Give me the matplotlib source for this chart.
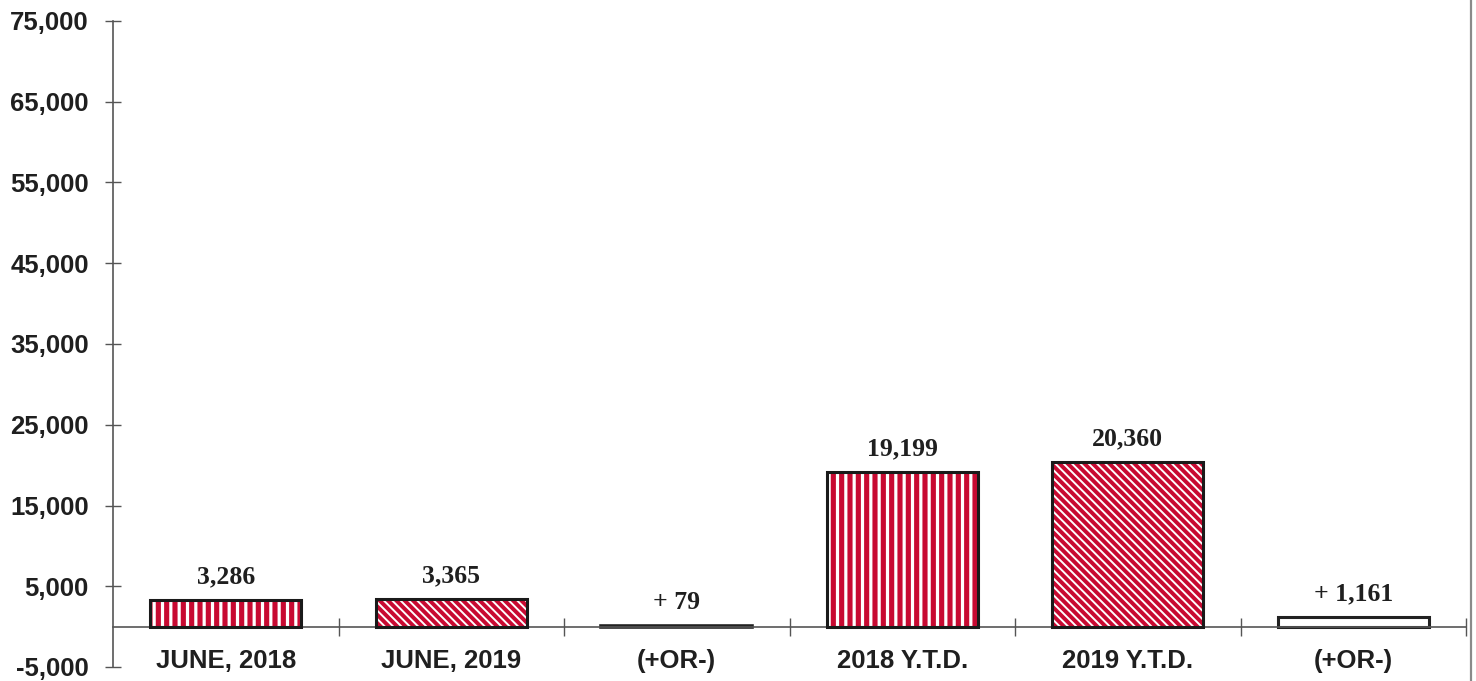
import matplotlib
matplotlib.use("Agg")
import matplotlib.pyplot as plt
from matplotlib.lines import Line2D
from matplotlib.ticker import FuncFormatter, FixedLocator

categories = ["JUNE, 2018", "JUNE, 2019", "(+OR-)", "2018 Y.T.D.", "2019 Y.T.D.", "(+OR-)"]
values = [3286, 3365, 79, 19199, 20360, 1161]
value_labels = ["3,286", "3,365", "+ 79", "19,199", "20,360", "+ 1,161"]
styles = ["vert", "diag", "black", "vert", "diag", "white"]
yticks = [-5000, 5000, 15000, 25000, 35000, 45000, 55000, 65000, 75000]

RED = "#C80A32"
TXT = "#1f1f1f"
AX = "#555555"

plt.rcParams["hatch.linewidth"] = 1.8

fig = plt.figure(figsize=(14.76, 6.81), dpi=100)
ax = fig.add_axes([113/1476, 14/681, (1466-113)/1476, 646/681])

x = list(range(len(categories)))
w = 0.67
for xi, v, st in zip(x, values, styles):
    if st == "vert":
        b = ax.bar(xi, v, w, color=RED, edgecolor="white", hatch="||", linewidth=0, zorder=2)
        for p in b:
            if hasattr(p, "set_hatch_linewidth"):
                p.set_hatch_linewidth(2.3)
    elif st == "diag":
        b = ax.bar(xi, v, w, color=RED, edgecolor="white", hatch="\\\\\\\\", linewidth=0, zorder=2)
        for p in b:
            if hasattr(p, "set_hatch_linewidth"):
                p.set_hatch_linewidth(1.4)
    elif st == "black":
        ax.bar(xi, v, w, color="#222222", edgecolor="#222222", linewidth=2.6, zorder=2)
        continue
    else:
        ax.bar(xi, v, w, color="white", edgecolor="#222222", linewidth=2.2, zorder=2)
        continue
    ax.bar(xi, v, w, facecolor="none", edgecolor="#1a1a1a", linewidth=2.2, zorder=3)

for xi, v, lab in zip(x, values, value_labels):
    ax.annotate(lab, (xi, v), xytext=(0, 12), textcoords="offset points",
                ha="center", va="baseline", fontsize=18.5, fontweight="bold",
                family="Liberation Serif", color=TXT)

for xi, c in zip(x, categories):
    ax.text(xi, -4200, c, ha="center", va="center", fontsize=18.5, fontweight="bold",
            family="Liberation Sans", color=TXT)

ax.set_xlim(-0.5, len(categories) - 0.5)
ax.set_ylim(-5000, 75000)
ax.yaxis.set_major_locator(FixedLocator(yticks))
ax.yaxis.set_major_formatter(FuncFormatter(lambda v, p: f"{int(v):,}"))
ax.tick_params(axis="y", direction="inout", length=11, width=1.0, color=AX, pad=12,
               labelsize=18.5, labelcolor=TXT)
for lab in ax.yaxis.get_ticklabels():
    lab.set_fontweight("bold")
    lab.set_family("Liberation Sans")

ax.xaxis.set_major_locator(FixedLocator([i + 0.5 for i in x]))
ax.tick_params(axis="x", direction="inout", length=13, width=1.0, color=AX, labelbottom=False)

ax.spines["bottom"].set_position(("data", 0))
ax.spines["bottom"].set_color(AX)
ax.spines["bottom"].set_linewidth(1.2)
ax.spines["left"].set_color(AX)
ax.spines["left"].set_linewidth(1.2)
ax.spines["top"].set_visible(False)
ax.spines["right"].set_visible(False)

fig.add_artist(Line2D([1471/1476, 1471/1476], [0, 1], color="#8a8a8a", linewidth=1.6))

fig.savefig("out.png", dpi=100)
